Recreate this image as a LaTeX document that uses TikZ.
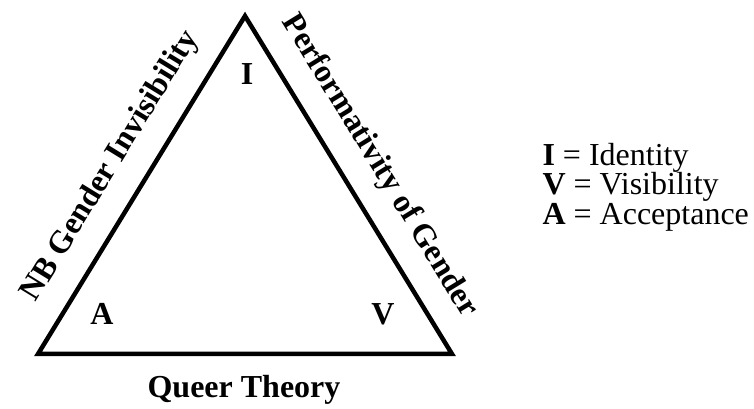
\documentclass[tikz,border=0pt]{standalone}
\usepackage{fontspec}
\setmainfont{Liberation Serif}
\usepackage{tikz}
\usetikzlibrary{positioning}

\begin{document}
\begin{tikzpicture}[x=1pt, y=1pt,
  edge/.style={line width=4.5pt},
  txt/.style={font=\fontsize{32}{32}\selectfont},
  vert/.style={txt, font=\fontsize{32}{32}\selectfont\bfseries, anchor=base},
  side/.style={vert, anchor=center, sloped, above=16pt},
  key/.style={txt, anchor=base west}
]
  \useasboundingbox (0,0) rectangle (754,409);

  % corners of the triangle
  \coordinate (cI) at (245,393);
  \coordinate (cA) at (38,55);
  \coordinate (cV) at (452,55);

  \draw[edge] (cA) -- node[side, pos=0.5] (nb) {NB Gender Invisibility}
    (cI) -- node[side, pos=0.5] (perf) {Performativity of Gender}
    (cV) -- cycle;

  \node[vert] (lI) at (247,324) {I};
  \node[vert] (lA) at (102,84) {A};
  \node[vert] (lV) at (383,84) {V};

  \node[vert] (queer) at (244,11) {Queer Theory};

  % legend
  \node[key] (kI) at (539,243) {\textbf{I} = Identity};
  \node[key] (kV) at (539,214) {\textbf{V} = Visibility};
  \node[key] (kA) at (539,184) {\textbf{A} = Acceptance};
\end{tikzpicture}
\end{document}
